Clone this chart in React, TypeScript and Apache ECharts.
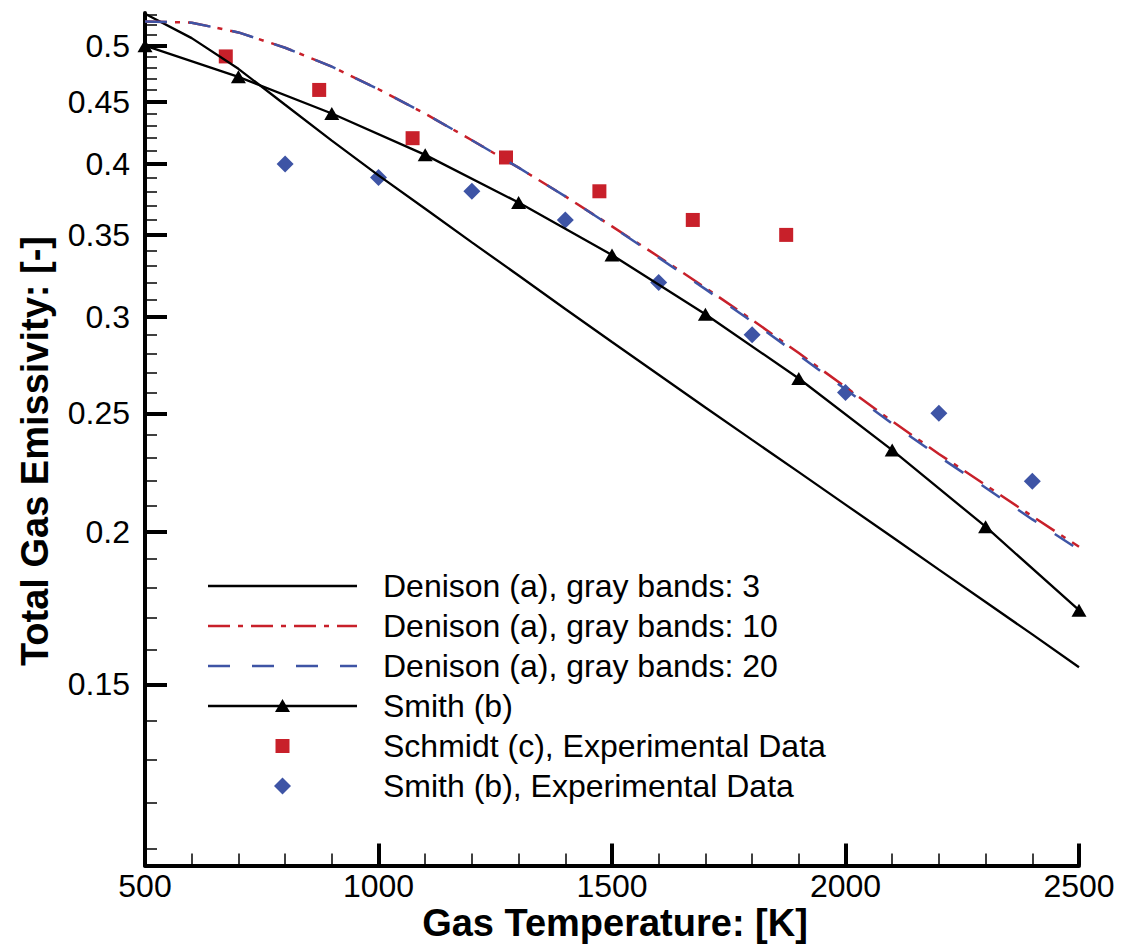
import React, { useEffect, useRef } from "react";
import * as echarts from "echarts";

// ---------------- data ----------------
const T_LINE = [500, 600, 700, 800, 900, 1000, 1100, 1200, 1300, 1400, 1500, 1600, 1700, 1800, 1900, 2000, 2100, 2200, 2300, 2400, 2500];
const DENISON_3 = [0.531, 0.5072, 0.4787, 0.4473, 0.4181, 0.3916, 0.3677, 0.3451, 0.3242, 0.3044, 0.286, 0.2689, 0.2528, 0.2378, 0.2238, 0.2105, 0.198, 0.1862, 0.1752, 0.1648, 0.1549];
const DENISON_10 = [0.5234, 0.5222, 0.5127, 0.4981, 0.4806, 0.4606, 0.4398, 0.4184, 0.3973, 0.3764, 0.3557, 0.3359, 0.3168, 0.2982, 0.2801, 0.2627, 0.2463, 0.2316, 0.2184, 0.2059, 0.1944];
const DENISON_20 = [0.5234, 0.5222, 0.5127, 0.4981, 0.4806, 0.4606, 0.4398, 0.4184, 0.3973, 0.3764, 0.3555, 0.3353, 0.316, 0.2972, 0.279, 0.2616, 0.2452, 0.2305, 0.2173, 0.2047, 0.1933];
const SMITH_T = [500, 700, 900, 1100, 1300, 1500, 1700, 1900, 2100, 2300, 2500];
const SMITH = [0.5, 0.4715, 0.44, 0.407, 0.372, 0.337, 0.3014, 0.267, 0.2333, 0.2019, 0.1725];
const SCHMIDT_T = [673, 873, 1073, 1273, 1473, 1673, 1873];
const SCHMIDT = [0.49, 0.46, 0.42, 0.405, 0.38, 0.36, 0.35];
const SMITH_EXP_T = [800, 1000, 1200, 1400, 1600, 1800, 2000, 2200, 2400];
const SMITH_EXP = [0.4, 0.39, 0.38, 0.36, 0.32, 0.29, 0.26, 0.25, 0.22];

const Y_MIN = 0.1066;
const Y_MAX = 0.5318;
const Y_MAJOR = [0.15, 0.2, 0.25, 0.3, 0.35, 0.4, 0.45, 0.5];
const Y_MINOR = [0.11, 0.12, 0.13, 0.14, 0.16, 0.17, 0.18, 0.19, 0.21, 0.22, 0.23, 0.24, 0.26, 0.27, 0.28, 0.29, 0.31, 0.32, 0.33, 0.34, 0.36, 0.37, 0.38, 0.39, 0.41, 0.42, 0.43, 0.44, 0.46, 0.47, 0.48, 0.49, 0.51, 0.52, 0.53];
const X_MIN = 500;
const X_MAX = 2500;
const X_STEP = 500;

const SERIES_NAMES = [
  "Denison (a), gray bands: 3",
  "Denison (a), gray bands: 10",
  "Denison (a), gray bands: 20",
  "Smith (b)",
  "Schmidt (c), Experimental Data",
  "Smith (b), Experimental Data",
];
const X_TITLE = "Gas Temperature: [K]";
const Y_TITLE = "Total Gas Emissivity: [-]";

// ---------------- styles ----------------
const FONT = "Liberation Sans, Arial, Helvetica, sans-serif";
const RED = "#C8202A";
const BLUE = "#3E54A5";
const BLACK = "#000000";
const RED_DASH = [22, 8, 5, 8];
const BLUE_DASH = [22, 22];

const lg = (v: number) => Math.log10(v);
const pairs = (xs: number[], ys: number[]) => xs.map((x, i) => [x, lg(ys[i])]);

function fmt(v: number) {
  return String(parseFloat(Math.pow(10, v).toFixed(2)));
}

export default function App() {
  const ref = useRef<HTMLDivElement>(null);

  useEffect(() => {
    if (!ref.current) return;
    const chart = echarts.init(ref.current, undefined, { renderer: "svg" });

    const legX1 = 208;
    const legX2 = 357;
    const legMid = (legX1 + legX2) / 2;
    const legTextX = 383;
    const rowY = (i: number) => 586 + i * 40;

    const legendGraphics: any[] = [];
    const lineStyles = [
      { stroke: BLACK, lineWidth: 2.3 },
      { stroke: RED, lineWidth: 2.5, lineDash: RED_DASH },
      { stroke: BLUE, lineWidth: 2.5, lineDash: BLUE_DASH },
      { stroke: BLACK, lineWidth: 2.3 },
    ];
    lineStyles.forEach((st, i) => {
      legendGraphics.push({
        type: "line",
        shape: { x1: legX1, y1: rowY(i), x2: legX2, y2: rowY(i) },
        style: st,
      });
    });
    legendGraphics.push({
      type: "polygon",
      shape: {
        points: [
          [legMid, rowY(3) - 7],
          [legMid + 7.5, rowY(3) + 6],
          [legMid - 7.5, rowY(3) + 6],
        ],
      },
      style: { fill: BLACK },
    });
    legendGraphics.push({
      type: "rect",
      shape: { x: legMid - 7, y: rowY(4) - 7, width: 14, height: 14 },
      style: { fill: RED },
    });
    legendGraphics.push({
      type: "polygon",
      shape: {
        points: [
          [legMid, rowY(5) - 8.5],
          [legMid + 8.5, rowY(5)],
          [legMid, rowY(5) + 8.5],
          [legMid - 8.5, rowY(5)],
        ],
      },
      style: { fill: BLUE },
    });
    SERIES_NAMES.forEach((name, i) => {
      legendGraphics.push({
        type: "text",
        x: legTextX,
        y: rowY(i),
        style: {
          text: name,
          fontSize: 32,
          fontFamily: FONT,
          fill: BLACK,
          align: "left",
          verticalAlign: "middle",
        },
      });
    });

    const option: any = {
      animation: false,
      backgroundColor: "#ffffff",
      grid: { left: 145, right: 44, top: 13, bottom: 79.5, containLabel: false },
      xAxis: {
        type: "value",
        min: X_MIN,
        max: X_MAX,
        interval: X_STEP,
        axisLine: { show: true, onZero: false, lineStyle: { color: BLACK, width: 4 } },
        axisTick: { show: true, inside: true, length: 22, lineStyle: { color: BLACK, width: 4 } },
        minorTick: { show: true, splitNumber: 5, length: 12, lineStyle: { color: BLACK, width: 1.5 } },
        axisLabel: {
          fontSize: 32,
          fontFamily: FONT,
          color: BLACK,
          margin: 4,
          formatter: (v: number) => String(v),
        },
        splitLine: { show: false },
      },
      yAxis: [
        {
          type: "value",
          min: lg(Y_MIN),
          max: lg(Y_MAX),
          axisLine: { show: true, onZero: false, lineStyle: { color: BLACK, width: 4 } },
          axisTick: {
            show: true,
            inside: true,
            length: 22,
            lineStyle: { color: BLACK, width: 4 },
            customValues: Y_MAJOR.map(lg),
          },
          axisLabel: {
            fontSize: 32,
            fontFamily: FONT,
            color: BLACK,
            margin: 15,
            customValues: Y_MAJOR.map(lg),
            formatter: (v: number) => fmt(v),
          },
          splitLine: { show: false },
        },
        {
          type: "value",
          position: "left",
          min: lg(Y_MIN),
          max: lg(Y_MAX),
          axisLine: { show: false, onZero: false },
          axisTick: {
            show: true,
            inside: true,
            length: 12,
            lineStyle: { color: BLACK, width: 1.5 },
            customValues: Y_MINOR.map(lg),
          },
          axisLabel: { show: false },
          splitLine: { show: false },
        },
      ],
      series: [
        {
          name: SERIES_NAMES[0],
          type: "line",
          data: pairs(T_LINE, DENISON_3),
          symbol: "none",
          lineStyle: { color: BLACK, width: 2.3 },
          itemStyle: { color: BLACK },
        },
        {
          name: SERIES_NAMES[1],
          type: "line",
          data: pairs(T_LINE, DENISON_10),
          symbol: "none",
          lineStyle: { color: RED, width: 2.5, type: RED_DASH },
          itemStyle: { color: RED },
        },
        {
          name: SERIES_NAMES[2],
          type: "line",
          data: pairs(T_LINE, DENISON_20),
          symbol: "none",
          lineStyle: { color: BLUE, width: 2.5, type: BLUE_DASH },
          itemStyle: { color: BLUE },
        },
        {
          name: SERIES_NAMES[3],
          type: "line",
          data: pairs(SMITH_T, SMITH),
          symbol: "triangle",
          symbolSize: [15, 13],
          showAllSymbol: true,
          lineStyle: { color: BLACK, width: 2.3 },
          itemStyle: { color: BLACK },
        },
        {
          name: SERIES_NAMES[4],
          type: "scatter",
          data: pairs(SCHMIDT_T, SCHMIDT),
          symbol: "rect",
          symbolSize: 14,
          itemStyle: { color: RED, opacity: 1 },
        },
        {
          name: SERIES_NAMES[5],
          type: "scatter",
          data: pairs(SMITH_EXP_T, SMITH_EXP),
          symbol: "diamond",
          symbolSize: 17,
          itemStyle: { color: BLUE, opacity: 1 },
        },
      ],
      graphic: [
        ...legendGraphics,
        {
          type: "text",
          x: 615,
          y: 923,
          style: {
            text: X_TITLE,
            fontSize: 38,
            fontWeight: "bold",
            fontFamily: FONT,
            fill: BLACK,
            align: "center",
            verticalAlign: "middle",
          },
        },
        {
          type: "text",
          x: 35,
          y: 451,
          rotation: Math.PI / 2,
          style: {
            text: Y_TITLE,
            fontSize: 38,
            fontWeight: "bold",
            fontFamily: FONT,
            fill: BLACK,
            align: "center",
            verticalAlign: "middle",
          },
        },
      ],
    };

    chart.setOption(option);
    return () => chart.dispose();
  }, []);

  return (
    <div
      ref={ref}
      style={{ position: "fixed", left: 0, top: 0, width: 1123, height: 945, background: "#fff" }}
    />
  );
}
